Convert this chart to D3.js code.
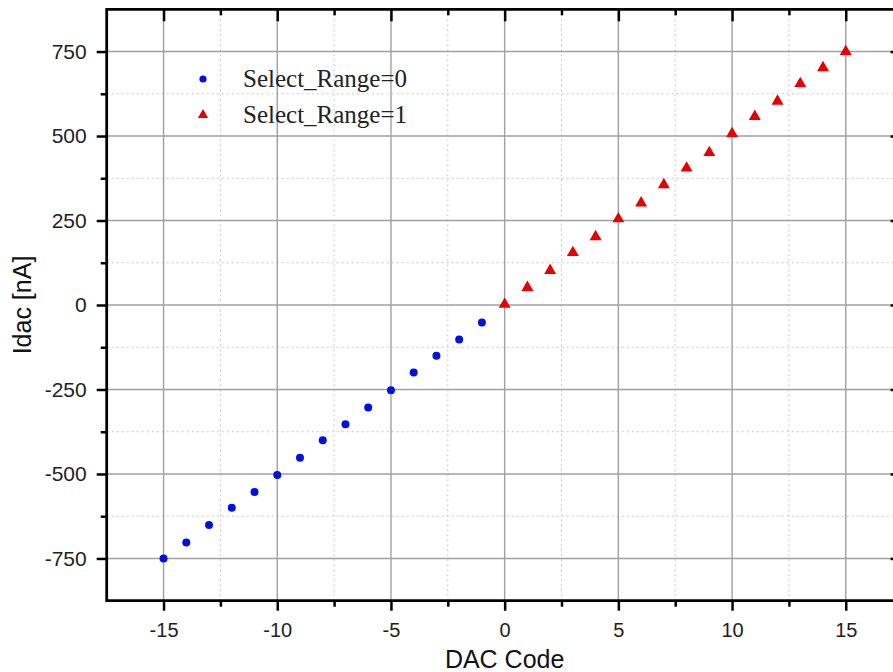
<!DOCTYPE html>
<html>
<head>
<meta charset="utf-8">
<script src="https://cdn.jsdelivr.net/npm/d3@7"></script>
<style>
  body { margin: 0; background: #fff; }
  svg { display: block; }
  .tick text { font-family: Arial, "Liberation Sans", sans-serif; }
</style>
</head>
<body>
<svg id="chart" width="893" height="672"></svg>
<script>
// DAC code vs. current, two ranges
var codes0 = [-15, -14, -13, -12, -11, -10, -9, -8, -7, -6, -5, -4, -3, -2, -1];
var idac0 = [-750, -703, -651, -600, -553, -503, -452, -400, -353, -303, -252, -200, -150, -102, -52];
var codes1 = [0, 1, 2, 3, 4, 5, 6, 7, 8, 9, 10, 11, 12, 13, 14, 15];
var idac1 = [2, 52, 102, 155, 202, 255, 302, 356, 405, 451, 507, 558, 603, 655, 702, 750];
var xTicks = [-15, -10, -5, 0, 5, 10, 15];
var xMinor = [-12.5, -7.5, -2.5, 2.5, 7.5, 12.5];
var yTicks = [-750, -500, -250, 0, 250, 500, 750];
var yMinor = [-625, -375, -125, 125, 375, 625];
var legendLabels = ["Select_Range=0", "Select_Range=1"];

const svg = d3.select("#chart");

const x = d3.scaleLinear().domain([-17.5, 17.5]).range([106.7, 902.6]);
const y = d3.scaleLinear().domain([-875, 875]).range([600.7, 9.3]);

// plain hyphen for negatives, like the original
const fmt = d => String(d);

// grid
const grid = svg.append("g");
grid.selectAll(".gxm").data(xMinor).enter().append("line")
    .attr("x1", d => x(d)).attr("x2", d => x(d))
    .attr("y1", y(875)).attr("y2", y(-875))
    .attr("stroke", "#c8c8c8").attr("stroke-width", 1).attr("stroke-dasharray", "2,3");
grid.selectAll(".gym").data(yMinor).enter().append("line")
    .attr("y1", d => y(d)).attr("y2", d => y(d))
    .attr("x1", x(-17.5)).attr("x2", x(17.5))
    .attr("stroke", "#c8c8c8").attr("stroke-width", 1).attr("stroke-dasharray", "2,3");
grid.selectAll(".gx").data(xTicks).enter().append("line")
    .attr("x1", d => x(d)).attr("x2", d => x(d))
    .attr("y1", y(875)).attr("y2", y(-875))
    .attr("stroke", "#a0a0a0").attr("stroke-width", 1.4);
grid.selectAll(".gy").data(yTicks).enter().append("line")
    .attr("y1", d => y(d)).attr("y2", d => y(d))
    .attr("x1", x(-17.5)).attr("x2", x(17.5))
    .attr("stroke", "#a0a0a0").attr("stroke-width", 1.4);

// axes
function styleAxis(g, size) {
    g.select(".domain").remove();
    g.selectAll(".tick line").attr("stroke", "#000").attr("stroke-width", 2.5);
    g.selectAll(".tick text").attr("font-size", size).attr("fill", "#222");
}

const bottom = svg.append("g").attr("transform", `translate(0,${y(-875)})`)
    .call(d3.axisBottom(x).tickValues(xTicks).tickSize(10).tickPadding(12).tickFormat(fmt));
styleAxis(bottom, 20);
svg.append("g").attr("transform", `translate(0,${y(-875)})`)
    .call(d3.axisBottom(x).tickValues(xMinor).tickSize(6).tickFormat(""))
    .call(g => styleAxis(g, 0));

const left = svg.append("g").attr("transform", `translate(${x(-17.5)},0)`)
    .call(d3.axisLeft(y).tickValues(yTicks).tickSize(10).tickPadding(10).tickFormat(fmt));
styleAxis(left, 21);
svg.append("g").attr("transform", `translate(${x(-17.5)},0)`)
    .call(d3.axisLeft(y).tickValues(yMinor).tickSize(6).tickFormat(""))
    .call(g => styleAxis(g, 0));

// top axis: ticks pointing in
svg.append("g").attr("transform", `translate(0,${y(875)})`)
    .call(d3.axisBottom(x).tickValues(xTicks).tickSize(12).tickFormat(""))
    .call(g => styleAxis(g, 0));
svg.append("g").attr("transform", `translate(0,${y(875)})`)
    .call(d3.axisBottom(x).tickValues(xMinor).tickSize(6).tickFormat(""))
    .call(g => styleAxis(g, 0));
// right axis: ticks pointing in
svg.append("g").attr("transform", `translate(${x(17.5)},0)`)
    .call(d3.axisLeft(y).tickValues(yTicks).tickSize(12).tickFormat(""))
    .call(g => styleAxis(g, 0));

// frame lines
svg.append("line").attr("x1", x(-17.5)).attr("x2", x(17.5)).attr("y1", y(875)).attr("y2", y(875))
    .attr("stroke", "#000").attr("stroke-width", 2.8);
svg.append("line").attr("x1", x(-17.5)).attr("x2", x(17.5)).attr("y1", y(-875)).attr("y2", y(-875))
    .attr("stroke", "#000").attr("stroke-width", 2.8);
svg.append("line").attr("x1", x(-17.5)).attr("x2", x(-17.5)).attr("y1", y(875) - 1.4).attr("y2", y(-875) + 1.4)
    .attr("stroke", "#000").attr("stroke-width", 2.8);

// data
const tri = d3.symbol().type(d3.symbolTriangle).size(62);

svg.append("g").selectAll("circle")
    .data(codes0.map((c, i) => ({ x: c, y: idac0[i] })))
    .enter().append("circle")
    .attr("cx", d => x(d.x)).attr("cy", d => y(d.y)).attr("r", 4)
    .attr("fill", "#0010e0");

svg.append("g").selectAll("path")
    .data(codes1.map((c, i) => ({ x: c, y: idac1[i] })))
    .enter().append("path")
    .attr("d", tri)
    .attr("transform", d => `translate(${x(d.x)},${y(d.y)})`)
    .attr("fill", "#e80000");

// legend
const legend = svg.append("g");
legend.append("circle")
    .attr("cx", 203).attr("cy", 79).attr("r", 3.6)
    .attr("fill", "#0010e0");
legend.append("path")
    .attr("d", d3.symbol().type(d3.symbolTriangle).size(45))
    .attr("transform", "translate(203,115)")
    .attr("fill", "#e80000");
legend.selectAll("text").data(legendLabels).enter().append("text")
    .attr("x", 243).attr("y", (d, i) => 87 + i * 36)
    .attr("font-family", "'Liberation Serif', 'DejaVu Serif', serif")
    .attr("font-size", 25).attr("fill", "#222")
    .text(d => d);

// axis titles
svg.append("text")
    .attr("x", x(0)).attr("y", 668)
    .attr("text-anchor", "middle")
    .attr("font-family", "Arial, 'Liberation Sans', sans-serif")
    .attr("font-size", 25).attr("fill", "#111")
    .text("DAC Code");
svg.append("text")
    .attr("transform", `translate(31,${(y(875) + y(-875)) / 2}) rotate(-90)`)
    .attr("text-anchor", "middle")
    .attr("font-family", "Arial, 'Liberation Sans', sans-serif")
    .attr("font-size", 25).attr("fill", "#111")
    .text("Idac [nA]");
</script>
</body>
</html>
